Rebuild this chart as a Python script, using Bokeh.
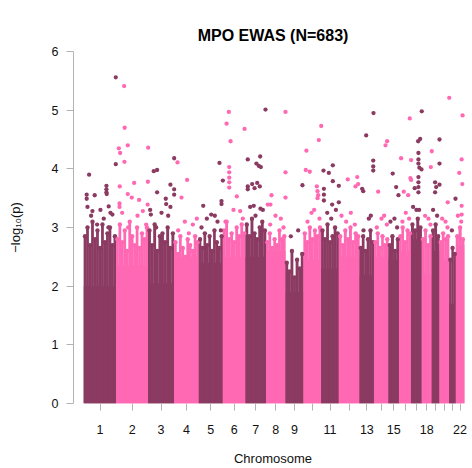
import numpy as np
from bokeh.plotting import figure
from bokeh.models import FixedTicker, Range1d, Title
from bokeh.embed import file_html
from bokeh.resources import INLINE

# ---- data ----
chrom_labels = ["1", "2", "3", "4", "5", "6", "7", "8", "9", "10", "11",
                "12", "13", "14", "15", "16", "17", "18", "19", "20", "21", "22"]
shown_labels = ["1", "2", "3", "4", "5", "6", "7", "8", "9", "11", "13",
                "15", "18", "22"]
# span of each chromosome on the x axis (Mb)
chr_span = [243, 240, 195, 185, 180, 170, 155, 145, 135, 133, 132,
            155, 110, 107, 80, 90, 80, 75, 58, 73, 50, 63]
# level below which each chromosome's mass of CpGs is solid
solid_top = [2.0, 2.35, 2.05, 2.5, 2.4, 2.5, 2.5, 2.6, 1.9, 2.45, 2.3,
             2.5, 2.2, 2.5, 2.45, 2.6, 2.8, 2.2, 2.6, 2.45, 1.7, 2.7]
# ragged top of the dense band, left to right in each chromosome
col_tops = [
    [2.85, 3.0, 2.7, 3.1, 2.8, 2.95, 2.65, 3.05, 2.75, 2.9, 3.0, 2.7, 2.85],
    [2.8, 3.05, 2.75, 2.95, 2.6, 3.1, 2.85, 2.7, 3.0, 2.65, 2.9, 2.8, 3.0],
    [2.95, 2.7, 3.05, 2.6, 2.85, 2.9, 2.75, 3.0, 2.65, 2.9],
    [2.75, 2.55, 2.85, 2.65, 2.5, 2.8, 2.7, 2.6, 2.85, 2.75],
    [2.8, 2.65, 2.9, 2.7, 2.85, 2.6, 2.95, 2.75, 2.65, 2.85],
    [2.95, 3.1, 2.8, 2.9, 2.75, 3.0, 2.85, 3.05, 2.9],
    [3.05, 2.85, 3.15, 2.9, 2.8, 3.0, 3.1, 2.95],
    [2.75, 2.9, 2.65, 2.8, 2.7, 2.95, 2.8, 2.85],
    [2.4, 2.25, 2.6, 2.15, 2.45, 2.3, 2.55],
    [2.9, 2.75, 3.0, 2.8, 2.95, 2.85, 3.0],
    [2.95, 2.8, 3.05, 2.75, 2.85, 3.0, 2.9],
    [2.85, 2.7, 2.95, 2.8, 3.0, 2.75, 2.9, 2.85],
    [2.65, 2.85, 2.6, 2.8, 2.95, 2.75],
    [2.75, 2.9, 2.65, 2.85, 2.7, 2.8],
    [2.7, 2.85, 2.6, 2.8],
    [2.85, 3.0, 2.75, 2.95, 2.9],
    [3.05, 2.95, 3.15, 3.0],
    [2.8, 2.95, 2.7, 2.85],
    [2.95, 3.05, 2.85],
    [2.75, 2.9, 2.8, 2.85],
    [2.45, 2.65, 2.55],
    [2.85, 3.0, 2.8],
]
# loose CpGs just above the dense band
band_chrom = [1, 1, 1, 1, 1, 2, 2, 2, 2, 2, 3, 3, 3, 3, 4, 4, 4, 4, 4,
              5, 5, 5, 5, 5, 6, 6, 6, 6, 7, 7, 7, 8, 8, 8, 8, 9, 9,
              10, 10, 10, 10, 11, 11, 11, 12, 12, 12, 12, 13, 13, 13,
              14, 14, 14, 14, 15, 15, 15, 16, 16, 16, 17, 17, 17,
              18, 18, 18, 19, 19, 20, 20, 20, 21, 22, 22]
band_pos = [55, 150, 215, 100, 185, 45, 160, 200, 90, 225, 20, 100, 150, 60,
            80, 140, 170, 30, 110, 60, 120, 140, 20, 165, 80, 130, 20, 150,
            35, 130, 75, 70, 110, 30, 130, 40, 95, 60, 80, 30, 120, 45, 110,
            75, 20, 90, 55, 120, 70, 85, 30, 55, 75, 20, 95, 15, 45, 65, 50,
            25, 75, 15, 40, 60, 25, 50, 65, 10, 40, 20, 45, 60, 20, 15, 40]
band_logp = [3.2, 3.15, 3.22, 3.05, 3.0, 3.25, 3.2, 3.28, 3.0, 3.05, 3.22,
             3.25, 3.2, 3.0, 3.1, 3.05, 3.15, 2.95, 2.9, 3.15, 3.2, 3.1,
             3.0, 2.95, 3.3, 3.28, 3.1, 3.15, 3.35, 3.3, 3.2, 3.2, 3.15,
             3.05, 3.0, 2.85, 2.95, 3.25, 3.3, 3.1, 3.15, 3.25, 3.3, 3.15,
             3.2, 3.25, 3.1, 3.05, 3.15, 3.2, 2.95, 3.15, 3.2, 3.0, 3.05,
             3.1, 3.15, 3.0, 3.25, 3.1, 3.15, 3.35, 3.3, 3.3, 3.2, 3.15,
             3.05, 3.3, 3.2, 3.15, 3.1, 3.0, 2.95, 3.2, 3.1]
# individual CpGs well above the band: chromosome, position (Mb), -log10(p)
pt_chrom = ([1] * 15 + [2] * 16 + [3] * 11 + [4] * 3 + [5] * 6 + [6] * 10 +
            [7] * 14 + [8] * 6 + [9] * 1 + [10] * 9 + [11] * 10 + [12] * 4 +
            [13] * 7 + [14] * 3 + [15] * 3 + [16] * 7 + [17] * 13 + [18] * 2 +
            [19] * 6 + [20] * 2 + [21] * 1 + [22] * 6)
pt_pos = [240, 240, 40, 170, 170, 170, 172, 82, 22, 22, 187, 28, 125, 200, 65,
          60, 64, 87, 20, 30, 62, 240, 135, 238, 27, 87, 117, 172, 25, 25, 236,
          15, 42, 67, 167, 67, 132, 135, 167, 195, 195, 195,
          25, 97, 55,
          155, 180, 170, 170, 33, 93,
          45, 28, 163, 58, 48, 48, 48, 48, 48, 105,
          150, 17, 110, 82, 100, 115, 17, 17, 50, 88, 107, 68, 112, 62,
          145, 145, 40, 145, 12, 32,
          127,
          133, 115, 22, 17, 47, 100, 105, 110, 105,
          17, 57, 20, 20, 87, 87, 20, 132, 132, 82,
          67, 138, 125, 145,
          105, 50, 103, 103, 103, 20, 28,
          97, 85, 30,
          32, 58, 75,
          80, 15, 90, 85, 90, 35, 68,
          80, 68, 53, 55, 55, 55, 78, 62, 55, 55, 55, 55, 27,
          75, 68,
          58, 58, 25, 25, 33, 58,
          73, 62,
          47,
          50, 43, 25, 48, 43, 43]
pt_logp = [5.56, 4.08, 3.90, 3.71, 3.65, 3.60, 3.57, 3.55, 3.56, 3.49, 3.36, 3.35, 3.30, 3.25, 3.28,
           5.41, 4.70, 4.40, 4.35, 4.27, 4.12, 4.36, 3.76, 3.78, 3.70, 3.57, 3.51, 3.47, 3.41, 3.35, 3.39,
           3.30, 3.96, 3.98, 3.73, 3.60, 3.49, 3.40, 3.35, 4.18, 3.65, 3.56,
           4.11, 3.81, 3.51,
           4.10, 3.80, 3.45, 3.40, 3.37, 3.22,
           4.97, 4.77, 4.68, 4.47, 4.03, 3.94, 3.85, 3.77, 3.68, 3.53,
           5.01, 4.16, 4.21, 4.09, 4.05, 4.03, 3.70, 3.65, 3.74, 3.76, 3.70, 3.67, 3.32, 3.37,
           4.97, 3.94, 3.55, 3.51, 3.39, 3.39,
           3.72,
           4.73, 4.49, 4.31, 3.98, 3.95, 3.70, 3.62, 3.55, 3.50,
           3.97, 3.93, 3.56, 3.46, 4.06, 3.79, 3.66, 3.71, 3.43, 3.39,
           3.82, 3.86, 3.70, 3.74,
           4.95, 4.57, 4.14, 4.04, 3.97, 3.66, 3.62,
           4.47, 4.40, 3.61,
           3.92, 3.69, 3.55,
           4.86, 4.18, 4.15, 3.84, 3.81, 3.61, 3.55,
           4.98, 4.51, 4.47, 4.27, 4.16, 4.09, 3.99, 4.02, 3.86, 3.77, 3.69, 3.60, 3.67,
           4.30, 4.03,
           4.50, 4.09, 3.77, 3.60, 3.69, 3.73,
           5.21, 3.43,
           3.49,
           4.91, 4.16, 3.93, 3.74, 3.37, 3.22]
y_ticks = [0, 1, 2, 3, 4, 5, 6]
title_text = "MPO EWAS (N=683)"

DARK = "#8B3A62"
PINK = "#FF69B4"
FONT = "Liberation Sans"

offsets = np.concatenate([[0], np.cumsum(chr_span)[:-1]]).astype(float)
spans = np.array(chr_span, dtype=float)
colors = [DARK if i % 2 == 0 else PINK for i in range(len(chr_span))]

p = figure(width=472, height=468, x_range=Range1d(-77, 2915.5), y_range=Range1d(0, 6),
           output_backend="svg", toolbar_location=None,
           min_border_left=73, min_border_right=0, min_border_top=51, min_border_bottom=65)

# solid lower part of each chromosome
p.quad(left=offsets, right=offsets + spans, bottom=0, top=solid_top,
       fill_color=colors, line_color=None)

# ragged dense band
cx, cw, ct, cc = [], [], [], []
for i, tops in enumerate(col_tops):
    n = len(tops)
    step = spans[i] / n
    for j, h in enumerate(tops):
        cx.append(offsets[i] + step * (j + 0.5))
        cw.append(step * 1.12)
        ct.append(h)
        cc.append(colors[i])
p.vbar(x=cx, width=cw, top=ct, bottom=0, fill_color=cc, line_color=None)
p.scatter(x=cx, y=ct, size=4.4, fill_color=cc, line_color=None)

# loose points over the band
bx = [offsets[c - 1] + pos for c, pos in zip(band_chrom, band_pos)]
bc = [colors[c - 1] for c in band_chrom]
p.scatter(x=bx, y=band_logp, size=4.3, fill_color=bc, line_color=None)

# individual points
px = [offsets[c - 1] + pos for c, pos in zip(pt_chrom, pt_pos)]
pc = [colors[c - 1] for c in pt_chrom]
p.scatter(x=px, y=pt_logp, size=4.3, fill_color=pc, line_color=None)

# axes
centers = [int(round(o + s / 2)) for o, s in zip(offsets, spans)]
p.xaxis.ticker = FixedTicker(ticks=centers)
p.xaxis.major_label_overrides = {c: (lab if lab in shown_labels else "")
                                 for c, lab in zip(centers, chrom_labels)}
p.xaxis.axis_line_color = None
p.xaxis.major_tick_line_color = "#b3b3b3"
p.xaxis.major_tick_out = 7
p.xaxis.major_tick_in = 0
p.xaxis.minor_tick_line_color = None
p.xaxis.major_label_standoff = 14
p.xaxis.major_label_text_font = FONT
p.xaxis.major_label_text_font_size = "12.5px"
p.xaxis.major_label_text_color = "#111111"
p.xaxis.axis_label = "Chromosome"
p.xaxis.axis_label_text_font = FONT
p.xaxis.axis_label_text_font_size = "13px"
p.xaxis.axis_label_text_font_style = "normal"
p.xaxis.axis_label_text_color = "#111111"
p.xaxis.axis_label_standoff = 14

p.yaxis.ticker = FixedTicker(ticks=y_ticks)
p.yaxis.axis_line_color = "#b3b3b3"
p.yaxis.major_tick_line_color = "#b3b3b3"
p.yaxis.major_tick_out = 7
p.yaxis.major_tick_in = 0
p.yaxis.minor_tick_line_color = None
p.yaxis.major_label_standoff = 8
p.yaxis.major_label_text_font = FONT
p.yaxis.major_label_text_font_size = "12.5px"
p.yaxis.major_label_text_color = "#111111"
p.yaxis.axis_label = "\u2212log\u2081\u2080(p)"
p.yaxis.axis_label_text_font = FONT
p.yaxis.axis_label_text_font_size = "13px"
p.yaxis.axis_label_text_font_style = "normal"
p.yaxis.axis_label_text_color = "#111111"
p.yaxis.axis_label_standoff = 26

p.xgrid.visible = False
p.ygrid.visible = False
p.outline_line_color = None

# invisible spacer next to the frame (built-in title slot), real title stacked above it
p.title.text = "."
p.title.text_font_size = "2px"
p.title.text_alpha = 0.0
p.title.standoff = 9
p.add_layout(Title(text=title_text, align="center", text_font=FONT,
                   text_font_size="16px", text_font_style="bold",
                   text_color="#000000", standoff=15), "above")

html = file_html(p, INLINE, title="MPO EWAS")
open("out.html", "w").write(html)
